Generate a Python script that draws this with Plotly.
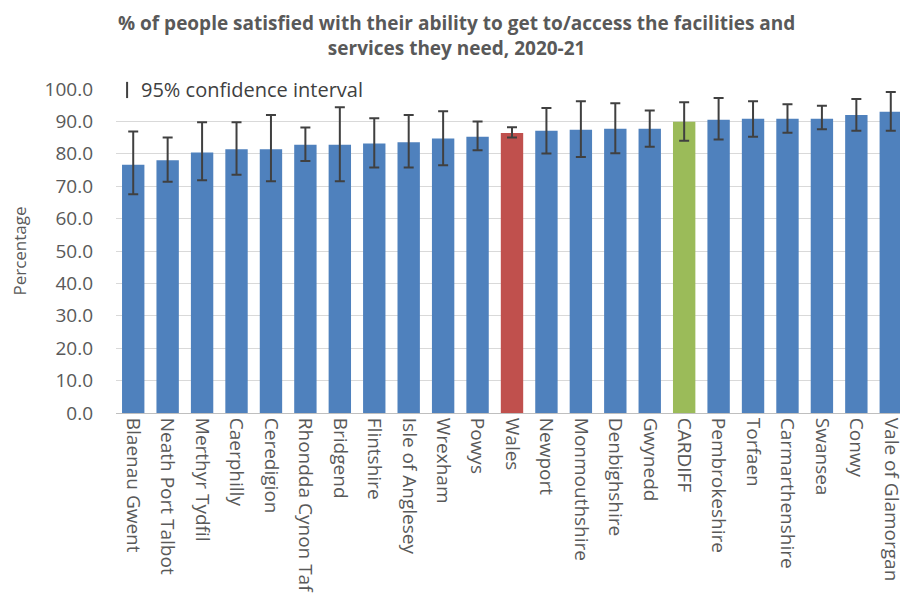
import plotly.graph_objects as go

categories = ["Blaenau Gwent", "Neath Port Talbot", "Merthyr Tydfil", "Caerphilly", "Ceredigion",
              "Rhondda Cynon Taf", "Bridgend", "Flintshire", "Isle of Anglesey", "Wrexham", "Powys",
              "Wales", "Newport", "Monmouthshire", "Denbighshire", "Gwynedd", "CARDIFF",
              "Pembrokeshire", "Torfaen", "Carmarthenshire", "Swansea", "Conwy", "Vale of Glamorgan"]
values = [76.6, 78.0, 80.4, 81.4, 81.4, 82.8, 82.8, 83.2, 83.6, 84.7, 85.3,
          86.4, 87.1, 87.4, 87.7, 87.7, 89.9, 90.5, 90.8, 90.8, 90.8, 92.0, 93.0]
ci_upper = [86.9, 85.0, 89.7, 89.7, 92.0, 88.1, 94.4, 91.0, 92.0, 93.1, 90.0,
            88.2, 94.1, 96.2, 95.6, 93.4, 95.9, 97.2, 96.2, 95.3, 94.8, 96.9, 99.1]
ci_lower = [67.5, 71.4, 71.8, 73.5, 71.5, 77.8, 71.5, 75.8, 75.8, 76.5, 81.1,
            85.0, 80.1, 79.0, 80.2, 82.2, 84.0, 84.4, 85.3, 86.5, 87.6, 87.1, 87.1]
y_ticks = [0, 10, 20, 30, 40, 50, 60, 70, 80, 90, 100]

BLUE = "#4F81BD"
RED = "#C0504D"
GREEN = "#9BBB59"
colors = [RED if c == "Wales" else GREEN if c == "CARDIFF" else BLUE for c in categories]
err_plus = [u - v for u, v in zip(ci_upper, values)]
err_minus = [v - l for v, l in zip(values, ci_lower)]

fig = go.Figure(go.Bar(
    x=categories, y=values, marker_color=colors, marker_line_width=0,
    error_y=dict(type="data", symmetric=False, array=err_plus, arrayminus=err_minus,
                 color="#404040", thickness=2, width=5),
))

fig.update_layout(
    width=900, height=608,
    margin=dict(l=108, r=0, t=81, b=203),
    plot_bgcolor="white", paper_bgcolor="white",
    bargap=0.35,
    showlegend=False,
    font=dict(family="Open Sans, sans-serif", color="#595959"),
    xaxis=dict(tickangle=90, tickfont=dict(size=19, color="#595959"), showline=True,
               linecolor="#BFBFBF", linewidth=1, ticks="", showgrid=False, automargin=False),
    yaxis=dict(range=[0, 100], tickvals=y_ticks, tickformat=".1f",
               tickfont=dict(size=19, color="#595959"), showgrid=True, gridcolor="#D9D9D9",
               gridwidth=1, zeroline=False, ticks="", showline=False, ticklabelstandoff=22,
               automargin=False,
               title=dict(text="Percentage", font=dict(size=17, color="#595959"), standoff=16)),
    shapes=[dict(type="line", xref="paper", yref="paper", x0=0.014, x1=0.014, y0=0.972, y1=1.022,
                 line=dict(color="#404040", width=2))],
    annotations=[
        dict(text="<b>% of people satisfied with their ability to get to/access the facilities and"
                  "<br>services they need, 2020-21</b>",
             xref="paper", yref="paper", x=0.43, y=1.166, xanchor="center", yanchor="middle",
             showarrow=False, align="center", borderpad=0,
             font=dict(family="Open Sans, sans-serif", size=19, color="#595959")),
        dict(text="95% confidence interval", xref="paper", yref="paper", x=0.029, y=1.0,
             xanchor="left", yanchor="middle", showarrow=False,
             font=dict(size=20, color="#404040")),
    ],
)

fig.write_html("out.html")
